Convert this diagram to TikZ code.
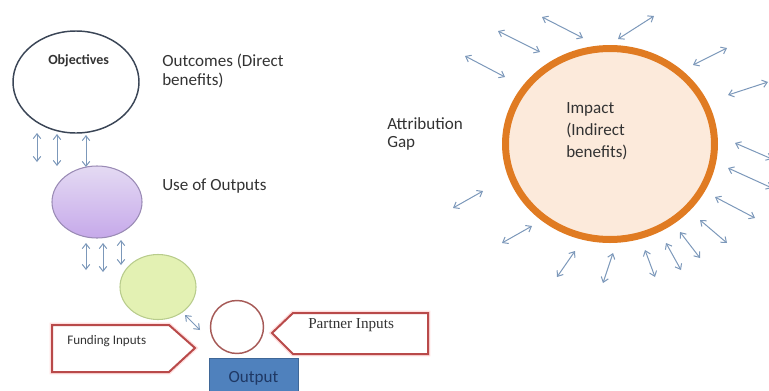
\documentclass[tikz,border=0pt]{standalone}
\usepackage{fontspec}
\setmainfont{Carlito}
\newfontfamily\partnerfont{Liberation Serif}
\usetikzlibrary{arrows.meta,shapes.geometric}

\definecolor{arrowc}{HTML}{7C98BA}
\definecolor{txtc}{HTML}{333333}
\definecolor{objedge}{HTML}{3A4556}
\definecolor{usetop}{HTML}{E4DAF3}
\definecolor{usebot}{HTML}{C6A9EA}
\definecolor{useedge}{HTML}{9A8BB5}
\definecolor{grnfill}{HTML}{E3F1B3}
\definecolor{grnedge}{HTML}{B8CC8C}
\definecolor{ringedge}{HTML}{A65A57}
\definecolor{rededge}{HTML}{B94A4A}
\definecolor{outblue}{HTML}{4F81BD}
\definecolor{outtext}{HTML}{1F3864}
\definecolor{impedge}{HTML}{E07B22}
\definecolor{impfill}{HTML}{FCEADB}

\begin{document}
\begin{tikzpicture}[x=0.75pt,y=-0.75pt]
    \tikzstyle{gap} = [<->,draw=arrowc,line width=0.75pt,>={Straight Barb[length=3.6pt,width=5.6pt]}]
    \tikzstyle{txt} = [inner sep=0pt,text=txtc,align=left,font=\fontsize{12.8}{14.3}\selectfont]
    \tikzstyle{inp} = [draw=rededge,line width=1.5pt,fill=white,line join=miter,preaction={draw=pink!50,line width=3.5pt}]
    \useasboundingbox (0,0) rectangle (769,390);
    % results chain
    \node [ellipse,draw=objedge,line width=1.1pt,minimum width=94.5pt,minimum height=76.5pt] (obj) at (76,82) {};
    \node [ellipse,draw=useedge,line width=0.8pt,top color=usetop,bottom color=usebot,minimum width=67.5pt,minimum height=54pt] (use) at (97,202) {};
    \node [ellipse,draw=grnedge,line width=0.8pt,fill=grnfill,minimum width=57pt,minimum height=48.75pt] (grn) at (158,287) {};
    \node [circle,draw=ringedge,line width=1.1pt,fill=white,minimum size=39.75pt] (ring) at (237,327) {};
    \node [rectangle,draw=outblue!80!black,line width=0.6pt,fill=outblue,minimum width=66.75pt,minimum height=30pt,text=outtext,font=\fontsize{12.8}{14.3}\selectfont] (res) at (253.5,378) {Output\hspace{6pt}};
    \node [ellipse,draw=impedge,line width=5.25pt,fill=impfill,minimum width=156.75pt,minimum height=143.25pt] (imp) at (610,144) {};
    % labels
    \node [anchor=base west,inner sep=0pt,text=txtc,font=\bfseries\fontsize{10.5}{12}\selectfont] (objl) at (48,64) {Objectives};
    \node [txt,anchor=west] (outc) at (162,71) {Outcomes (Direct\\benefits)};
    \node [txt,anchor=base west] (usel) at (162,190) {Use of Outputs};
    \node [txt,anchor=west,font=\fontsize{12.8}{16.5}\selectfont] (impl) at (566,131) {Impact\\(Indirect\\benefits)};
    \node [txt,anchor=west,font=\fontsize{12.8}{13.9}\selectfont] (attr) at (387,134) {Attribution\\Gap};
    % inputs
    \coordinate (f1) at (52,325);
    \coordinate (f2) at (169,325);
    \coordinate (f3) at (195,348);
    \coordinate (f4) at (169,372);
    \coordinate (f5) at (52,372);
    \coordinate (p1) at (272,333);
    \coordinate (p2) at (293,313);
    \coordinate (p3) at (428,313);
    \coordinate (p4) at (428,354);
    \coordinate (p5) at (293,354);
    \draw [inp] (f1) -- (f2) -- (f3) -- (f4) -- (f5) -- cycle;
    \draw [inp] (p1) -- (p2) -- (p3) -- (p4) -- (p5) -- cycle;
    \node [anchor=base west,inner sep=0pt,text=txtc,font=\fontsize{9.8}{11}\selectfont] (fund) at (67,344) {Funding Inputs};
    \node [anchor=base west,inner sep=0pt,text=txtc,font=\partnerfont\fontsize{11.4}{13}\selectfont] (part) at (308,328) {Partner Inputs};
    % links along the chain
    \coordinate (u1a) at (37,133);
    \coordinate (u1b) at (37,162);
    \coordinate (u2a) at (57,134);
    \coordinate (u2b) at (57,166);
    \coordinate (u3a) at (86,135);
    \coordinate (u3b) at (86,167);
    \coordinate (v1a) at (86,243);
    \coordinate (v1b) at (86,270);
    \coordinate (v2a) at (103,243);
    \coordinate (v2b) at (103,272);
    \coordinate (v3a) at (121,240);
    \coordinate (v3b) at (121,265);
    \coordinate (wa) at (185,315);
    \coordinate (wb) at (200,330);
    \draw [gap] (u1a) -- (u1b);
    \draw [gap] (u2a) -- (u2b);
    \draw [gap] (u3a) -- (u3b);
    \draw [gap] (v1a) -- (v1b);
    \draw [gap] (v2a) -- (v2b);
    \draw [gap] (v3a) -- (v3b);
    \draw [gap] (wa) -- (wb);
    % arrows round the impact
    \coordinate (g1a) at (465,56);
    \coordinate (g1b) at (505,77);
    \coordinate (g2a) at (498,31);
    \coordinate (g2b) at (540,52);
    \coordinate (g3a) at (542,17);
    \coordinate (g3b) at (583,38);
    \coordinate (g4a) at (618,39);
    \coordinate (g4b) at (654,16);
    \coordinate (g5a) at (693,65);
    \coordinate (g5b) at (727,48);
    \coordinate (g6a) at (728,95);
    \coordinate (g6b) at (768,82);
    \coordinate (g7a) at (735,143);
    \coordinate (g7b) at (772,159);
    \coordinate (g8a) at (728,168);
    \coordinate (g8b) at (772,188);
    \coordinate (g9a) at (715,197);
    \coordinate (g9b) at (755,218);
    \coordinate (g10a) at (700,220);
    \coordinate (g10b) at (727,243);
    \coordinate (g11a) at (680,232);
    \coordinate (g11b) at (700,258);
    \coordinate (g12a) at (666,243);
    \coordinate (g12b) at (681,270);
    \coordinate (g13a) at (645,250);
    \coordinate (g13b) at (655,277);
    \coordinate (g14a) at (613,253);
    \coordinate (g14b) at (603,283);
    \coordinate (g15a) at (575,251);
    \coordinate (g15b) at (557,277);
    \coordinate (g16a) at (532,226);
    \coordinate (g16b) at (502,243);
    \coordinate (g17a) at (483,191);
    \coordinate (g17b) at (453,208);
    \draw [gap] (g1a) -- (g1b);
    \draw [gap] (g2a) -- (g2b);
    \draw [gap] (g3a) -- (g3b);
    \draw [gap] (g4a) -- (g4b);
    \draw [gap] (g5a) -- (g5b);
    \draw [gap] (g6a) -- (g6b);
    \draw [gap] (g7a) -- (g7b);
    \draw [gap] (g8a) -- (g8b);
    \draw [gap] (g9a) -- (g9b);
    \draw [gap] (g10a) -- (g10b);
    \draw [gap] (g11a) -- (g11b);
    \draw [gap] (g12a) -- (g12b);
    \draw [gap] (g13a) -- (g13b);
    \draw [gap] (g14a) -- (g14b);
    \draw [gap] (g15a) -- (g15b);
    \draw [gap] (g16a) -- (g16b);
    \draw [gap] (g17a) -- (g17b);
\end{tikzpicture}
\end{document}
